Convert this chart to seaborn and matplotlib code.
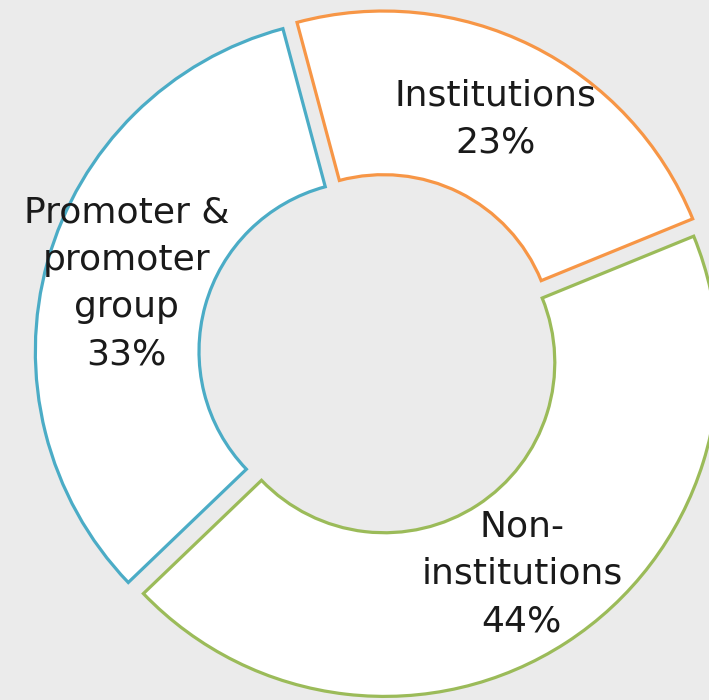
import matplotlib
matplotlib.use("Agg")
import matplotlib.pyplot as plt
import seaborn as sns

# Shareholding pattern
categories = ["Institutions", "Non-\ninstitutions", "Promoter &\npromoter\ngroup"]
shares = [23, 44, 33]
edge_colors = ["#f79646", "#9bbb59", "#4bacc6"]

sns.set_theme(style="white")
plt.rcParams["font.family"] = ["DejaVu Sans"]

bg = "#ebebeb"
fig = plt.figure(figsize=(7.09, 7.0), dpi=100, facecolor=bg)
ax = fig.add_axes([0, 0, 1, 1])
ax.set_facecolor(bg)

label_iter = iter(categories)


def fmt(pct):
    return f"{next(label_iter)}\n{round(pct):d}%"


wedges, _, autotexts = ax.pie(
    shares,
    startangle=105,
    counterclock=False,
    explode=[0.03] * len(shares),
    colors=["white"] * len(shares),
    autopct=fmt,
    pctdistance=0.755,
    wedgeprops=dict(width=0.49, linewidth=2.3),
    textprops=dict(fontsize=26, color="#1a1a1a", linespacing=1.5),
)
for w, c in zip(wedges, edge_colors):
    w.set_edgecolor(c)
    w.set_joinstyle("miter")

# centre of donut sits left/up of the figure centre, right/bottom edges clipped
scale = 334
cx, cy = 379, 354
ax.set_xlim(-cx / scale, (709 - cx) / scale)
ax.set_ylim(-(700 - cy) / scale, cy / scale)
ax.set_aspect("equal")
ax.axis("off")

fig.savefig("out.png", dpi=100, facecolor=bg)
plt.close(fig)
